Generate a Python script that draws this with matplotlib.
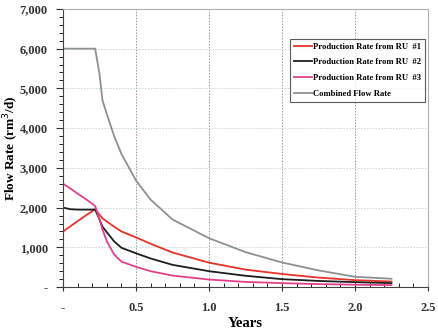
import matplotlib
matplotlib.use("Agg")
import matplotlib.pyplot as plt
from matplotlib.ticker import FuncFormatter, MultipleLocator

plt.rcParams["font.family"] = ["Liberation Serif", "DejaVu Serif"]

# Time axis (years) shared by all series
years = [0.0, 0.05, 0.1, 0.15, 0.22, 0.25, 0.27, 0.3, 0.35, 0.4, 0.5, 0.6, 0.75,
         1.0, 1.25, 1.5, 1.75, 2.0, 2.25]

ru1 = [1400, 1530, 1660, 1790, 1960, 1820, 1730, 1650, 1520, 1400, 1250, 1090, 870,
       615, 440, 330, 240, 175, 140]
ru2 = [2000, 1960, 1950, 1950, 1950, 1700, 1520, 1380, 1150, 990, 850, 720, 560,
       400, 285, 200, 155, 125, 100]
ru3 = [2600, 2480, 2350, 2230, 2040, 1700, 1450, 1150, 820, 640, 510, 400, 290,
       190, 130, 100, 75, 60, 50]
combined = [6000, 6000, 6000, 6000, 6000, 5350, 4700, 4350, 3800, 3350, 2680, 2200, 1700,
            1230, 880, 620, 420, 260, 210]

series = [
    ("Production Rate from RU  #1", ru1, "#e8332b"),
    ("Production Rate from RU  #2", ru2, "#1e1e1e"),
    ("Production Rate from RU  #3", ru3, "#e2418a"),
    ("Combined Flow Rate", combined, "#8e9192"),
]

fig = plt.figure(figsize=(4.38, 3.30), dpi=100)
ax = fig.add_axes([0.144, 0.130, 0.833, 0.843])

for label, vals, color in series:
    ax.plot(years, vals, color=color, lw=1.3, label=label)

ax.set_xlim(0, 2.5)
ax.set_ylim(0, 7000)
ax.xaxis.set_major_locator(MultipleLocator(0.5))
ax.xaxis.set_minor_locator(MultipleLocator(0.1))
ax.yaxis.set_major_locator(MultipleLocator(1000))
ax.yaxis.set_minor_locator(MultipleLocator(200))

ax.xaxis.set_major_formatter(FuncFormatter(lambda v, p: "-" if v == 0 else f"{v:.1f}"))
ax.yaxis.set_major_formatter(FuncFormatter(lambda v, p: "-" if v == 0 else f"{int(v):,}"))

for lbl in ax.get_xticklabels() + ax.get_yticklabels():
    lbl.set_fontweight("bold")
ax.tick_params(axis="both", labelsize=9, colors="#333333")
ax.tick_params(axis="x", which="major", direction="inout", length=6, pad=8)
ax.tick_params(axis="x", which="minor", direction="in", length=3)
ax.tick_params(axis="y", which="major", direction="out", length=5, pad=6)
ax.tick_params(axis="y", which="minor", direction="out", length=3)

ax.grid(axis="x", which="major", color="#9a9a9a", ls=(0, (1.5, 1.5)), lw=0.7)
ax.grid(axis="y", which="major", color="#c8d8d8", ls=(0, (1.5, 1.5)), lw=0.7)

ax.spines["left"].set_color("#444444")
ax.spines["bottom"].set_color("#444444")
ax.spines["top"].set_color("#b0b0b0")
ax.spines["right"].set_color("#b0b0b0")

ax.set_xlabel("Years", fontsize=10.5, fontweight="bold", labelpad=2)
ax.set_ylabel("Flow Rate (rm$^3$/d)", fontsize=9.5, fontweight="bold")
ax.yaxis.set_label_coords(-0.115, 0.5)

leg = ax.legend(loc="upper right", bbox_to_anchor=(0.992, 0.892),
                prop={"weight": "bold", "size": 6.2}, frameon=True, fancybox=False,
                edgecolor="#333333", handlelength=2.1, handletextpad=0.15,
                borderpad=0.45, labelspacing=0.88, borderaxespad=0)
leg.get_frame().set_linewidth(0.8)

fig.savefig("out.png", dpi=100)
